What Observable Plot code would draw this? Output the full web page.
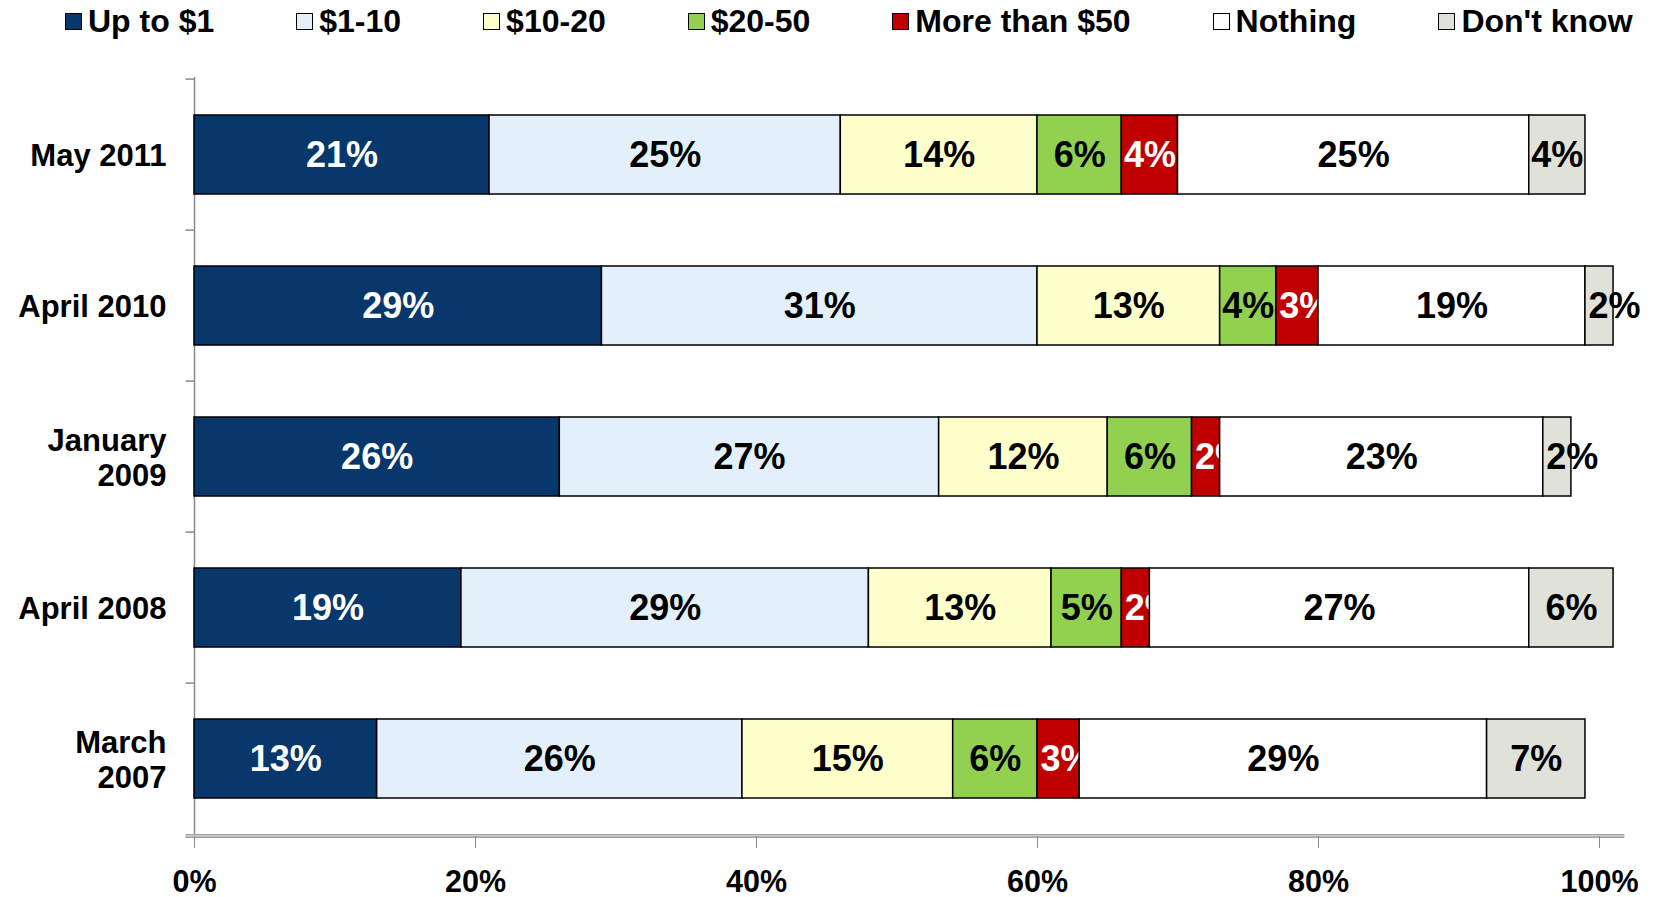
<!DOCTYPE html>
<html>
<head>
<meta charset="utf-8">
<script src="https://cdn.jsdelivr.net/npm/d3@7"></script>
<script src="https://cdn.jsdelivr.net/npm/@observablehq/plot@0.6"></script>
<style>
  html, body { margin: 0; padding: 0; background: #fff; }
  body { width: 1654px; height: 897px; overflow: hidden; font-family: "Liberation Sans", Arial, sans-serif; }
  #legend { height: 42px; display: flex; align-items: center; padding-left: 65px; gap: 82px; font-weight: bold; font-size: 32px; color: #000; }
  .item { display: flex; align-items: center; white-space: nowrap; }
  .sw { width: 15px; height: 15px; border: 1.5px solid #000; margin-right: 6px; box-sizing: content-box; }
  #chart svg text { font-weight: bold; }
</style>
</head>
<body>
<div id="legend"></div>
<div id="chart"></div>
<script>
const categories = ["May 2011", "April 2010", "January 2009", "April 2008", "March 2007"];
const categoryLabels = ["May 2011", "April 2010", "January\n2009", "April 2008", "March\n2007"];
const series = ["Up to $1", "$1-10", "$10-20", "$20-50", "More than $50", "Nothing", "Don't know"];
const colors = ["#08376b", "#e3f0fc", "#ffffcc", "#92d050", "#c00000", "#ffffff", "#e0e2da"];
const labelColors = ["white", "black", "black", "black", "white", "black", "black"];

const upTo1    = [21, 29, 26, 19, 13];
const d1to10   = [25, 31, 27, 29, 26];
const d10to20  = [14, 13, 12, 13, 15];
const d20to50  = [6, 4, 6, 5, 6];
const over50   = [4, 3, 2, 2, 3];
const nothing  = [25, 19, 23, 27, 29];
const dontKnow = [4, 2, 2, 6, 7];
const xTicks = [0, 20, 40, 60, 80, 100];

const values = [upTo1, d1to10, d10to20, d20to50, over50, nothing, dontKnow];

// stacked rows (cumulative offsets from the data)
const rows = [];
categories.forEach((c, i) => {
  let acc = 0;
  series.forEach((s, k) => {
    const v = values[k][i];
    rows.push({category: c, series: s, k, value: v, x1: acc, x2: acc + v});
    acc += v;
  });
});

// legend
const legend = document.getElementById("legend");
series.forEach((s, k) => {
  const it = document.createElement("div");
  it.className = "item";
  const sw = document.createElement("span");
  sw.className = "sw";
  sw.style.background = colors[k];
  const tx = document.createElement("span");
  tx.textContent = s;
  it.appendChild(sw); it.appendChild(tx);
  legend.appendChild(it);
});

const width = 1654, height = 855, marginTop = 35, marginBottom = 61, marginLeft = 194, marginRight = 55;
const step = (height - marginTop - marginBottom) / categories.length;
const fitThreshold = 4;

const marks = [
  Plot.ruleX([0], {stroke: "#8a8a8a", strokeWidth: 1.5}),
  Plot.ruleY(categories, {y: d => d, dy: -step / 2, x1: -0.6, x2: 0, stroke: "#8a8a8a", strokeWidth: 1.5}),
  Plot.ruleY([categories[categories.length - 1]], {y: d => d, dy: step / 2 + 1, x1: -0.6, x2: 101.8, stroke: "#a0a0a0", strokeWidth: 4}),
  Plot.ruleY([categories[categories.length - 1]], {y: d => d, dy: step / 2 + 1, x1: -0.6, x2: 101.8, stroke: "#e8e8e8", strokeWidth: 1}),
  Plot.axisX({ticks: xTicks, tickSize: 12, tickPadding: 22, stroke: "#8a8a8a", fill: "black", fontSize: 30.5, tickFormat: d => d + "%", anchor: "bottom"}),
  Plot.text(categories, {y: d => d, text: (d, i) => categoryLabels[i], frameAnchor: "left", textAnchor: "end", dx: -28, fontSize: 31, lineHeight: 1.15, fill: "black"})
];

series.forEach((s, k) => {
  const data = rows.filter(r => r.k === k);
  marks.push(Plot.barX(data, {y: "category", x1: "x1", x2: "x2", fill: colors[k], stroke: "black", strokeWidth: 1.5}));
  const fits = data.filter(r => r.value >= fitThreshold);
  const tight = data.filter(r => r.value < fitThreshold);
  marks.push(Plot.text(fits, {y: "category", x: r => (r.x1 + r.x2) / 2, text: r => r.value + "%", fill: labelColors[k], fontSize: 36, textAnchor: "middle"}));
  marks.push(Plot.text(tight, {y: "category", x: "x1", text: r => r.value + "%", fill: labelColors[k], fontSize: 36, textAnchor: "start", dx: 3}));
});

const chart = Plot.plot({
  width, height, marginTop, marginBottom, marginLeft, marginRight,
  style: {fontFamily: "'Liberation Sans', Arial, sans-serif", fontWeight: "bold", background: "white", overflow: "visible"},
  x: {domain: [0, 100], axis: null},
  y: {domain: categories, paddingInner: 0.48, paddingOuter: 0.24, axis: null},
  marks
});
document.getElementById("chart").appendChild(chart);
</script>
</body>
</html>
